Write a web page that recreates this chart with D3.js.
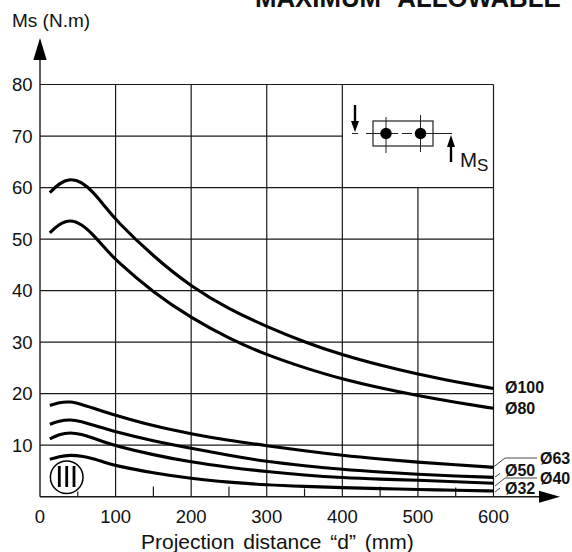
<!DOCTYPE html>
<html><head><meta charset="utf-8">
<script src="https://cdn.jsdelivr.net/npm/d3@7"></script>
<style>html,body{margin:0;padding:0;background:#fff}svg{display:block}text{font-family:"Liberation Sans",Arial,sans-serif;fill:#111}</style>
</head><body><svg id="c" width="572" height="552"></svg>
<script>
const xTicks=[0,100,200,300,400,500,600];
const yTicks=[10,20,30,40,50,60,70,80];
const minorTicks=[50,150,250,350,450,550];
const minorLen=[1,2,2,1.6,2,1.8];
const xs=[13,25,40,55,70,85,100,150,200,250,300,350,400,450,500,550,600];
const d100=[59,60.8,61.8,61.1,59.2,56.5,53.7,46.6,40.75,36.4,33,30,27.5,25.5,23.75,22.3,21];
const d80=[51.2,52.9,53.8,52.9,50.9,48.4,45.9,39.6,34.7,30.7,27.5,25,22.8,21.1,19.6,18.3,17.15];
const d63=[17.7,18.3,18.5,17.9,17.2,16.5,15.8,13.7,12.2,10.9,9.9,8.9,8,7.3,6.7,6.2,5.7];
const d50=[14.05,14.7,15,14.6,13.9,13.3,12.6,10.8,9.4,8,6.8,6,5.3,4.8,4.35,4,3.75];
const d40=[11.2,12.1,12.5,12.1,11.4,10.6,9.9,8.1,6.7,5.7,4.85,4.2,3.7,3.4,3.2,2.9,2.6];
const d32=[7.25,7.8,8.1,7.9,7.4,6.7,6,4.6,3.5,2.8,2.27,2,1.75,1.55,1.4,1.25,1.1];
const series=[d100,d80,d63,d50,d40,d32];
const svg=d3.select("#c");
const x=d3.scaleLinear().domain([0,600]).range([40,493.5]);
const y=d3.scaleLinear().domain([0,80]).range([496.7,84.5]);
const stroke="#1a1a1a";
const g=svg.append("g").attr("stroke",stroke).attr("stroke-width",1.2).attr("fill","none");
yTicks.forEach(v=>{
  const end=(v===70)?400:600;
  g.append("line").attr("x1",x(0)).attr("x2",x(end)).attr("y1",y(v)).attr("y2",y(v));
});
xTicks.slice(1).forEach(v=>{
  const top=(v===500)?60:80;
  g.append("line").attr("x1",x(v)).attr("x2",x(v)).attr("y1",y(0)).attr("y2",y(top));
});
minorTicks.forEach((v,i)=>{
  g.append("line").attr("x1",x(v)).attr("x2",x(v)).attr("y1",y(0)).attr("y2",y(minorLen[i]));
});
g.append("line").attr("x1",x(0)).attr("x2",x(0)).attr("y1",y(0)).attr("y2",58).attr("stroke-width",1.4);
g.append("line").attr("x1",x(0)).attr("x2",540).attr("y1",y(0)).attr("y2",y(0)).attr("stroke-width",1.4);
svg.append("path").attr("d",`M${x(0)} 38L${x(0)+6.7} 60L${x(0)-6.7} 60Z`).attr("fill","#000");
svg.append("path").attr("d",`M560 ${y(0)}L539 ${y(0)-6}L539 ${y(0)+6}Z`).attr("fill","#000");
const line=d3.line().x((d,i)=>x(xs[i])).y(d=>y(d)).curve(d3.curveBasis);
series.forEach(s=>svg.append("path").attr("d",line(s)).attr("fill","none").attr("stroke","#000").attr("stroke-width",3.1));
const fs=18.5;
xTicks.forEach(v=>svg.append("text").attr("x",x(v)).attr("y",523).attr("text-anchor","middle").attr("font-size",fs).text(v));
yTicks.forEach(v=>svg.append("text").attr("x",32.5).attr("y",y(v)+6.5).attr("text-anchor","end").attr("font-size",fs).text(v));
svg.append("text").attr("x",12).attr("y",27).attr("font-size",19).text("Ms (N.m)");
svg.append("text").attr("x",141).attr("y",549).attr("font-size",21).attr("word-spacing",3).text("Projection distance “d” (mm)");
svg.append("text").attr("x",255).attr("y",7).attr("font-size",25.8).attr("font-weight","bold").attr("word-spacing",10).text("MAXIMUM ALLOWABLE");
const labels=[["Ø100",505,393],["Ø80",505,414],["Ø63",540,464],["Ø50",505,476],["Ø40",540,484],["Ø32",505,494]];
labels.forEach(l=>svg.append("text").attr("x",l[1]).attr("y",l[2]).attr("font-size",16).attr("font-weight","bold").text(l[0]));
const lead=[[x(600),467,505,458,537,458],[495,477,500,473.5,500,473.5],[495,486,505,478,537,478],[495,492,500,488,500,488]];
const lg=svg.append("g").attr("fill","none").attr("stroke","#333").attr("stroke-width",0.9);
lead.forEach(p=>lg.append("path").attr("d",`M${p[0]} ${p[1]}L${p[2]} ${p[3]}L${p[4]} ${p[5]}`));
svg.append("circle").attr("cx",66.7).attr("cy",477.3).attr("r",16.3).attr("fill","#fff").attr("stroke","#000").attr("stroke-width",1.5);
[59.3,66.7,74].forEach(px=>svg.append("line").attr("x1",px).attr("x2",px).attr("y1",466).attr("y2",487).attr("stroke","#000").attr("stroke-width",2.8));
const d=svg.append("g");
d.append("rect").attr("x",373).attr("y",121).attr("width",60).attr("height",25).attr("fill","none").attr("stroke","#222").attr("stroke-width",1.2);
d.append("line").attr("x1",352).attr("x2",456).attr("y1",133.5).attr("y2",133.5).attr("stroke","#222").attr("stroke-width",1).attr("stroke-dasharray","6 8 32 4 10 4 36 5 3");
[[386,117,153],[420.5,115,152]].forEach(p=>{
 d.append("line").attr("x1",p[0]).attr("x2",p[0]).attr("y1",p[1]).attr("y2",p[2]).attr("stroke","#222").attr("stroke-width",1);
 d.append("circle").attr("cx",p[0]).attr("cy",133.5).attr("r",5.7).attr("fill","#000");
});
d.append("path").attr("d","M355 105V122").attr("stroke","#000").attr("stroke-width",2.4);
d.append("path").attr("d","M355 132L351 121H359Z").attr("fill","#000");
d.append("path").attr("d","M451 162V146").attr("stroke","#000").attr("stroke-width",2.4);
d.append("path").attr("d","M451 135L447 147H455Z").attr("fill","#000");
const ms=svg.append("text").attr("x",460).attr("y",167).attr("font-size",20.5);
ms.append("tspan").text("M");
ms.append("tspan").attr("dy",4).attr("font-size",17).text("S");
</script></body></html>
